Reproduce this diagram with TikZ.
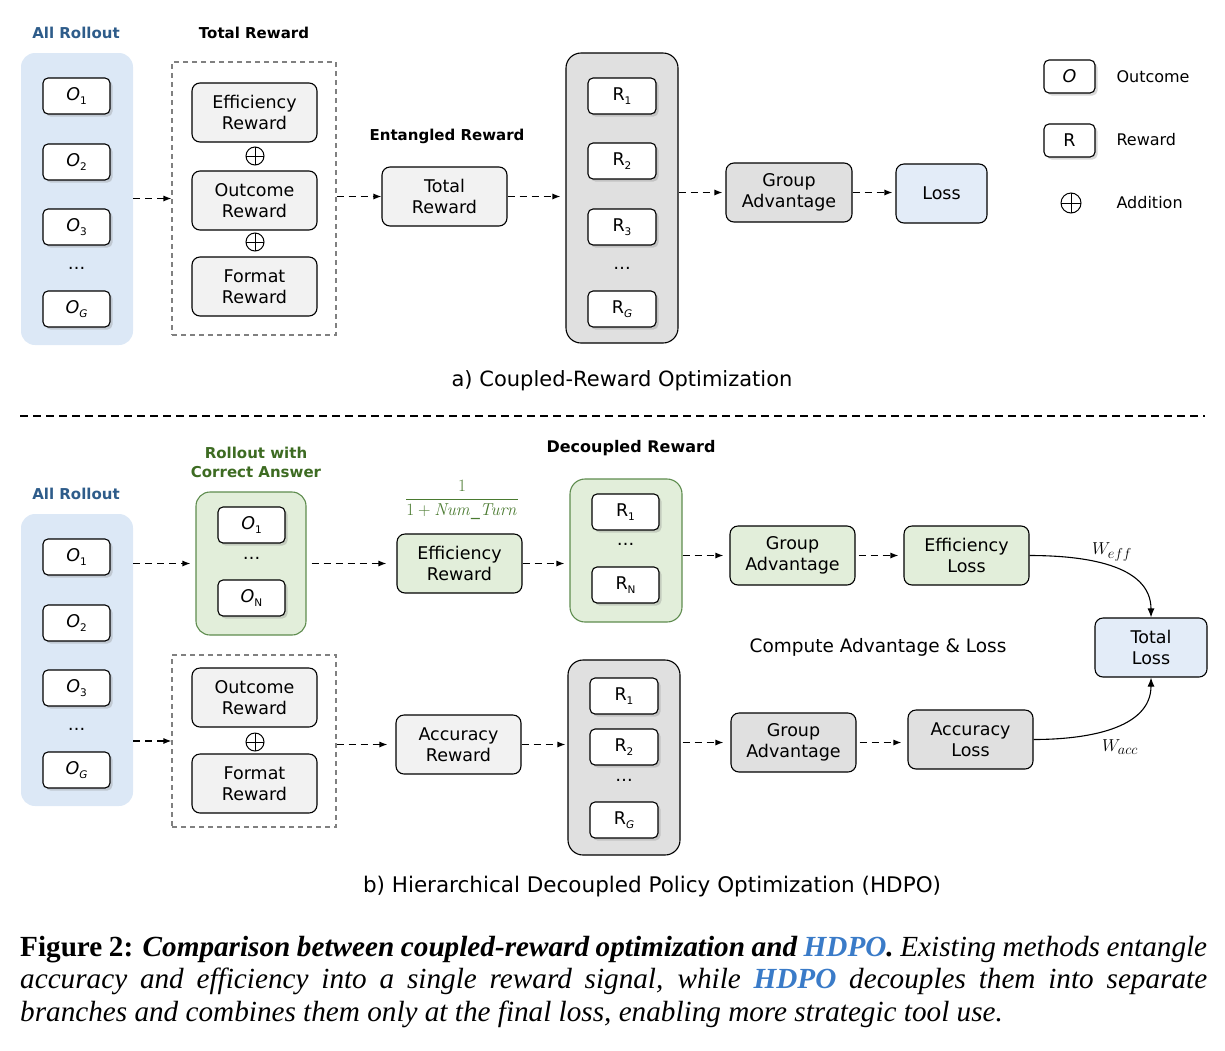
\documentclass[tikz,border=0pt]{standalone}
\usepackage{graphicx}
\usepackage[no-math]{fontspec}
\setmainfont{DejaVu Sans}
\newfontfamily\capfont{Liberation Serif}
\usetikzlibrary{shadows,arrows.meta}
\definecolor{bluebg}{HTML}{DCE8F6}
\definecolor{lossblue}{HTML}{E3ECF8}
\definecolor{lgray}{HTML}{F2F2F2}
\definecolor{mgray}{HTML}{E0E0E0}
\definecolor{gfill}{HTML}{E2EEDA}
\definecolor{gborder}{HTML}{5E8C4E}
\definecolor{rollblue}{HTML}{2E5C8A}
\definecolor{darkgreen}{HTML}{3D6B22}
\definecolor{fracgreen}{HTML}{4A7A30}
\definecolor{hdpoblue}{HTML}{3A7BC8}
\newcommand\sbx[1]{\raisebox{-0.45ex}{\fontsize{10.5}{10.5}\selectfont #1}}
\begin{document}
\begin{tikzpicture}[x=1pt,y=-1pt,
  every node/.style={font=\fontsize{17.5}{21}\selectfont},
  wbox/.style={draw, fill=white, rounded corners=5pt, line width=1.1pt,
    minimum width=67pt, minimum height=36pt, inner sep=0pt,
    drop shadow={shadow xshift=2.5pt, shadow yshift=-2.5pt, opacity=0.3}},
  nbox/.style={draw, rounded corners=8pt, line width=1.1pt, minimum width=125pt,
    minimum height=59pt, align=center, inner sep=2pt},
  cont/.style={rounded corners=15pt, minimum width=112pt, inner sep=0pt},
  dbox/.style={draw=gray, dashed, dash pattern=on 5pt off 4pt, line width=1.1pt,
    minimum width=164pt, inner sep=0pt},
  oplus/.style={circle, draw, line width=1pt, minimum size=18pt, inner sep=0pt,
    path picture={\draw[line width=1pt] (path picture bounding box.north)--(path picture bounding box.south)
      (path picture bounding box.west)--(path picture bounding box.east);}},
  darr/.style={dashed, dash pattern=on 7pt off 5pt, line width=1.1pt,
    -{Latex[length=8pt,width=6pt]}},
  sarr/.style={line width=1.1pt, -{Latex[length=9pt,width=7pt]}},
  lab/.style={font=\bfseries\fontsize{15}{19}\selectfont, align=center},
  big/.style={font=\fontsize{21}{25}\selectfont}
]
\useasboundingbox (0,0) rectangle (1225,1050);

% ================= a) =================
\node[lab, text=rollblue] (al) at (76,33) {All Rollout};
\node[cont, fill=bluebg, minimum height=292pt, rounded corners=14pt] (ra) at (77,199) {};
\node[wbox] (ao1) at (76.5,96) {\textit{O}\sbx{1}};
\node[wbox] (ao2) at (76.5,162) {\textit{O}\sbx{2}};
\node[wbox] (ao3) at (76.5,227) {\textit{O}\sbx{3}};
\node (aod) at (76.5,268) {\ldots};
\node[wbox] (aog) at (76.5,309) {\textit{O}\sbx{\textit{G}}};

\node[lab] (atrl) at (254,33) {Total Reward};
\node[dbox, minimum height=273pt] (atr) at (254,198.5) {};
\node[nbox, fill=lgray] (aeff) at (254.5,112.5) {Efficiency\\Reward};
\node[oplus] (ap1) at (255,156) {};
\node[nbox, fill=lgray] (aout) at (254.5,200.5) {Outcome\\Reward};
\node[oplus] (ap2) at (255,242) {};
\node[nbox, fill=lgray] (afmt) at (254.5,286.5) {Format\\Reward};

\node[lab] (entl) at (447,136) {Entangled Reward};
\node[nbox, fill=lgray] (atot) at (444.5,196.5) {Total\\Reward};

\node[cont, draw, line width=1.1pt, fill=mgray, minimum height=290pt] (arc) at (622,198) {};
\node[wbox, minimum width=68pt] (ar1) at (622,96) {R\sbx{1}};
\node[wbox, minimum width=68pt] (ar2) at (622,161) {R\sbx{2}};
\node[wbox, minimum width=68pt] (ar3) at (622,227) {R\sbx{3}};
\node (ard) at (622,268) {\ldots};
\node[wbox, minimum width=68pt] (arg) at (622,309) {R\sbx{\textit{G}}};

\node[nbox, fill=mgray, minimum width=126pt] (aga) at (789,192.5) {Group\\Advantage};
\node[nbox, fill=lossblue, minimum width=91pt] (aloss) at (941.5,193.5) {Loss};

\draw[darr] (ra.east |- atr.west) -- (atr.west);
\draw[darr] (atr.east |- atot.west) -- (atot.west);
\draw[darr, shorten >=5pt] (atot.east) -- (arc.west |- atot.east);
\draw[darr, shorten >=3pt] (arc.east |- aga.west) -- (aga.west);
\draw[darr, shorten >=3pt] (aga.east) -- (aloss.west |- aga.east);

% legend
\node[wbox, minimum width=51pt, minimum height=33pt] (lgo) at (1069.5,76.5) {\textit{O}};
\node[anchor=west, font=\fontsize{16}{20}\selectfont] (lgot) at (1113,77) {Outcome};
\node[wbox, minimum width=51pt, minimum height=33pt] (lgr) at (1069.5,140.5) {R};
\node[anchor=west, font=\fontsize{16}{20}\selectfont] (lgrt) at (1113,140) {Reward};
\node[oplus, minimum size=20pt] (lgp) at (1071,203) {};
\node[anchor=west, font=\fontsize{16}{20}\selectfont] (lgpt) at (1113,203) {Addition};

\node[big] (tita) at (622,381) {a) Coupled-Reward Optimization};

\coordinate (sepL) at (20,416);
\coordinate (sepR) at (1205,416);
\draw[dashed, dash pattern=on 8pt off 5pt, line width=1.1pt] (sepL) -- (sepR);

% ================= b) =================
\node[lab, text=rollblue] (bl) at (76,494) {All Rollout};
\node[cont, fill=bluebg, minimum height=292pt, rounded corners=14pt] (rb) at (77,660) {};
\node[wbox] (bo1) at (76.5,557) {\textit{O}\sbx{1}};
\node[wbox] (bo2) at (76.5,623) {\textit{O}\sbx{2}};
\node[wbox] (bo3) at (76.5,688) {\textit{O}\sbx{3}};
\node (bod) at (76.5,729) {\ldots};
\node[wbox] (bog) at (76.5,770) {\textit{O}\sbx{\textit{G}}};

\node[lab, text=darkgreen] (rwl) at (256,462) {Rollout with\\Correct Answer};
\node[cont, draw=gborder, line width=1.1pt, fill=gfill, minimum width=110pt, minimum height=143pt, rounded corners=14pt] (gc) at (251,563.5) {};
\node[wbox] (go1) at (251.5,525) {\textit{O}\sbx{1}};
\node (god) at (251.5,558) {\ldots};
\node[wbox] (gon) at (251.5,598) {\textit{O}\sbx{N}};

\node[text=fracgreen, font=\fontsize{17.5}{21}\selectfont] (frac) at (462,500) {$\displaystyle\frac{1}{1+\mathit{Num\_Turn}}$};
\node[nbox, fill=gfill] (beff) at (459.5,563.5) {Efficiency\\Reward};

\node[lab, font=\bfseries\fontsize{16}{19}\selectfont] (decl) at (631,448) {Decoupled Reward};
\node[cont, draw=gborder, line width=1.1pt, fill=gfill, minimum height=143pt] (grc) at (626,550.5) {};
\node[wbox] (gr1) at (625.5,512) {R\sbx{1}};
\node (grd) at (625.5,544) {\ldots};
\node[wbox] (grn) at (625.5,585) {R\sbx{N}};

\node[nbox, fill=gfill] (gga) at (792.5,555.5) {Group\\Advantage};
\node[nbox, fill=gfill] (gloss) at (966.5,555.5) {Efficiency\\Loss};

\node[nbox, fill=lossblue, minimum width=112pt] (tloss) at (1151,647.5) {Total\\Loss};
\node[font=\fontsize{18.5}{22}\selectfont] (cal) at (878,647) {Compute Advantage \& Loss};

\node[dbox, minimum height=172pt] (btr) at (254,741) {};
\node[nbox, fill=lgray] (bout) at (254.5,697.5) {Outcome\\Reward};
\node[oplus] (bp1) at (255,742) {};
\node[nbox, fill=lgray] (bfmt) at (254.5,783.5) {Format\\Reward};

\node[nbox, fill=lgray] (bacc) at (458.5,744.5) {Accuracy\\Reward};

\node[cont, draw, line width=1.1pt, fill=mgray, minimum height=195pt] (brc) at (624,757.5) {};
\node[wbox, minimum width=68pt] (br1) at (624,696) {R\sbx{1}};
\node[wbox, minimum width=68pt] (br2) at (624,747) {R\sbx{2}};
\node (brd) at (624,780) {\ldots};
\node[wbox, minimum width=68pt] (brg) at (624,820) {R\sbx{\textit{G}}};

\node[nbox, fill=mgray] (bga) at (793.5,742.5) {Group\\Advantage};
\node[nbox, fill=mgray] (bloss) at (970.5,739.5) {Accuracy\\Loss};

\draw[darr, shorten >=5pt] (rb.east |- gc.west) -- (gc.west);
\draw[darr, shorten <=5pt, shorten >=10pt] (gc.east |- beff.west) -- (beff.west);
\draw[darr, shorten >=5pt] (beff.east) -- (grc.west |- beff.east);
\draw[darr, shorten >=6pt] (grc.east |- gga.west) -- (gga.west);
\draw[darr, shorten <=3pt, shorten >=5pt] (gga.east) -- (gloss.west |- gga.east);

\draw[darr] (rb.east |- btr.west) -- (btr.west);
\draw[darr, shorten >=8pt] (btr.east |- bacc.west) -- (bacc.west);
\draw[darr, shorten >=2pt] (bacc.east) -- (brc.west |- bacc.east);
\draw[darr, shorten <=2pt, shorten >=7pt] (brc.east |- bga.west) -- (bga.west);
\draw[darr, shorten <=3pt, shorten >=6pt] (bga.east) -- (bloss.west |- bga.east);

\draw[sarr] (gloss.east) to[out=0, in=90] (tloss.north);
\draw[sarr] (bloss.east) to[out=0, in=-90] (tloss.south);
\node[font=\fontsize{19}{22}\selectfont] (weff) at (1112,552) {$W_{eff}$};
\node[font=\fontsize{19}{22}\selectfont] (wacc) at (1120,747) {$W_{acc}$};

\node[font=\fontsize{21.5}{25}\selectfont] (titb) at (652,887) {b) Hierarchical Decoupled Policy Optimization (HDPO)};

% caption
\node[anchor=north west, text width=1187pt, align=justify, inner sep=0pt,
  font=\capfont\fontsize{29.2}{32.5}\selectfont] (cap) at (20,936)
{\textbf{Figure 2:} \textbf{\textit{Comparison between coupled-reward optimization and \textcolor{hdpoblue}{HDPO}.}} \textit{Existing methods entangle\linebreak accuracy and efficiency into a single reward signal, while \textbf{\textcolor{hdpoblue}{HDPO}} decouples them into separate\linebreak branches and combines them only at the final loss, enabling more strategic tool use.}};
\end{tikzpicture}
\end{document}
